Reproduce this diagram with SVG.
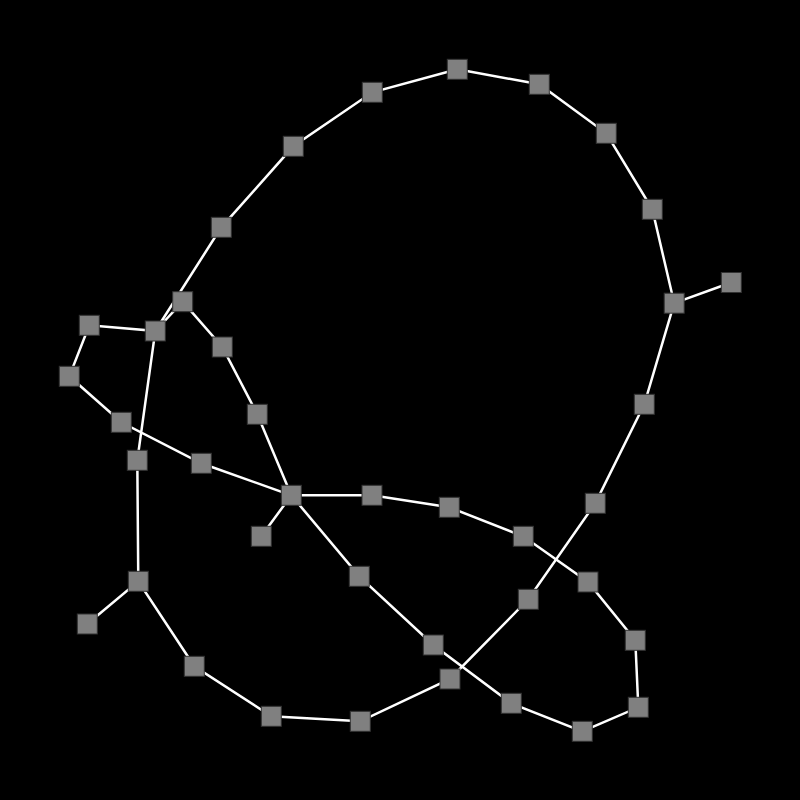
<svg xmlns="http://www.w3.org/2000/svg" width="800" height="800" viewBox="0 0 800 800">
<style>
.e{stroke:#ffffff;stroke-width:2.5;fill:none}
.n rect{fill:#808080;stroke:#333333;stroke-width:1;width:20px;height:20px}
</style>
<rect x="0" y="0" width="800" height="800" fill="#000000"/>
<g id="connectors" class="e">
<path d="M457.3,69.3L539.3,84.3L606.3,133.3L652.3,209.3L674.2,303.2L731.3,282.5"/>
<path d="M674.2,303.2L644.3,404.3L595.3,503.3L528.3,599.3L450,679L360.3,721.3L271.3,716.3L194.3,666.3L138.3,581.3L87.3,624"/>
<path d="M138.3,581.3L137.3,460.3L155.3,331L89.3,325.3L69.3,376.3L121.3,422.3L201.3,463.3L291.3,495.3L261.3,536.3"/>
<path d="M291.3,495.3L372,495.3L449.3,507.3L523.3,536.3L588,582L635.3,640.3L638.3,707.3L582.3,731.3L511.3,703.3L433.3,645L359.3,576.3L291.3,495.3"/>
<path d="M291.3,495.3L257.3,414.3L222.3,347L182.7,301.7L155.3,331"/>
<path d="M155.3,331L221.3,227.3L293.3,146.3L372.3,92.3L457.3,69.3"/>
</g>
<g id="n1" class="n"><rect x="447.3" y="59.3"/></g>
<g id="n2" class="n"><rect x="529.3" y="74.3"/></g>
<g id="n3" class="n"><rect x="596.3" y="123.3"/></g>
<g id="n4" class="n"><rect x="642.3" y="199.3"/></g>
<g id="n5" class="n"><rect x="664.2" y="293.2"/></g>
<g id="n6" class="n"><rect x="721.3" y="272.5"/></g>
<g id="n7" class="n"><rect x="634.3" y="394.3"/></g>
<g id="n8" class="n"><rect x="585.3" y="493.3"/></g>
<g id="n9" class="n"><rect x="518.3" y="589.3"/></g>
<g id="n10" class="n"><rect x="440" y="669"/></g>
<g id="n11" class="n"><rect x="350.3" y="711.3"/></g>
<g id="n12" class="n"><rect x="261.3" y="706.3"/></g>
<g id="n13" class="n"><rect x="184.3" y="656.3"/></g>
<g id="n14" class="n"><rect x="128.3" y="571.3"/></g>
<g id="n15" class="n"><rect x="77.3" y="614"/></g>
<g id="n16" class="n"><rect x="127.3" y="450.3"/></g>
<g id="n17" class="n"><rect x="145.3" y="321"/></g>
<g id="n18" class="n"><rect x="79.3" y="315.3"/></g>
<g id="n19" class="n"><rect x="59.3" y="366.3"/></g>
<g id="n20" class="n"><rect x="111.3" y="412.3"/></g>
<g id="n21" class="n"><rect x="191.3" y="453.3"/></g>
<g id="n22" class="n"><rect x="281.3" y="485.3"/></g>
<g id="n23" class="n"><rect x="251.3" y="526.3"/></g>
<g id="n24" class="n"><rect x="362" y="485.3"/></g>
<g id="n25" class="n"><rect x="439.3" y="497.3"/></g>
<g id="n26" class="n"><rect x="513.3" y="526.3"/></g>
<g id="n27" class="n"><rect x="578" y="572"/></g>
<g id="n28" class="n"><rect x="625.3" y="630.3"/></g>
<g id="n29" class="n"><rect x="628.3" y="697.3"/></g>
<g id="n30" class="n"><rect x="572.3" y="721.3"/></g>
<g id="n31" class="n"><rect x="501.3" y="693.3"/></g>
<g id="n32" class="n"><rect x="423.3" y="635"/></g>
<g id="n33" class="n"><rect x="349.3" y="566.3"/></g>
<g id="n34" class="n"><rect x="247.3" y="404.3"/></g>
<g id="n35" class="n"><rect x="212.3" y="337"/></g>
<g id="n36" class="n"><rect x="172.7" y="291.7"/></g>
<g id="n37" class="n"><rect x="211.3" y="217.3"/></g>
<g id="n38" class="n"><rect x="283.3" y="136.3"/></g>
<g id="n39" class="n"><rect x="362.3" y="82.3"/></g>
</svg>
